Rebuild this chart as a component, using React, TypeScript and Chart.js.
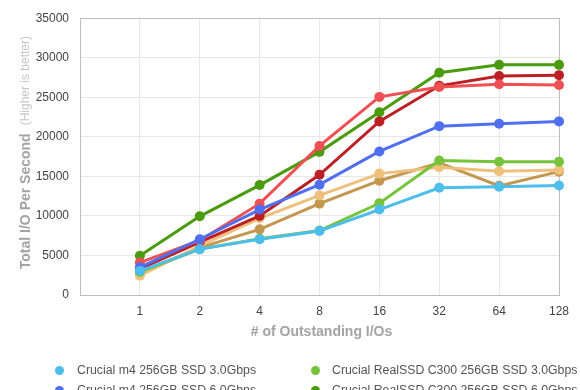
import React, { useEffect, useRef } from "react";
import { Chart, registerables } from "chart.js";

Chart.register(...registerables);

const FONT = "'Liberation Sans', Arial, Helvetica, sans-serif";

// X categories (# of outstanding I/Os)
const xLabels = ["1", "2", "4", "8", "16", "32", "64", "128"];

// Series names
const nameM4_30 = "Crucial m4 256GB SSD 3.0Gbps";
const nameM4_60 = "Crucial m4 256GB SSD 6.0Gbps";
const nameRed_30 = "OCZ Vertex 3 240GB SSD 3.0Gbps";
const nameRed_60 = "OCZ Vertex 3 240GB SSD 6.0Gbps";
const nameC300_30 = "Crucial RealSSD C300 256GB SSD 3.0Gbps";
const nameC300_60 = "Crucial RealSSD C300 256GB SSD 6.0Gbps";
const nameTan_30 = "Intel SSD 510 250GB 3.0Gbps";
const nameTan_60 = "Intel SSD 510 250GB 6.0Gbps";

// Values (IOPS)
const m4_30 = [3050, 5800, 7050, 8100, 10800, 13550, 13700, 13850];
const m4_60 = [3500, 7050, 10800, 13950, 18150, 21350, 21650, 21950];
const red_30 = [4100, 6900, 11550, 18850, 25050, 26300, 26650, 26550];
const red_60 = [3300, 6700, 10000, 15200, 21950, 26450, 27700, 27800];
const c300_30 = [2900, 5800, 7100, 8150, 11600, 17000, 16850, 16850];
const c300_60 = [4950, 9950, 13900, 18100, 23100, 28100, 29100, 29100];
const tan_30 = [2450, 6200, 9700, 12600, 15350, 16150, 15650, 15800];
const tan_60 = [2800, 6000, 8300, 11550, 14450, 16700, 13800, 15600];

// Y ticks
const yMin = 0;
const yMax = 35000;
const yStep = 5000;

const series = [
  { name: nameM4_30, data: m4_30, color: "#4DBDEB" },
  { name: nameM4_60, data: m4_60, color: "#4F6FEE" },
  { name: nameRed_30, data: red_30, color: "#EE5053" },
  { name: nameRed_60, data: red_60, color: "#BC2024" },
  { name: nameC300_30, data: c300_30, color: "#76C43B" },
  { name: nameC300_60, data: c300_60, color: "#4A9B0E" },
  { name: nameTan_30, data: tan_30, color: "#EEC07C" },
  { name: nameTan_60, data: tan_60, color: "#C4974F" },
];

// legend columns (column-major layout)
const legendCols = [
  [0, 1, 2, 3],
  [4, 5, 6, 7],
];

export default function App() {
  const ref = useRef<HTMLCanvasElement>(null);

  useEffect(() => {
    const canvas = ref.current;
    if (!canvas) return;

    const frame = {
      id: "frame",
      beforeDatasetsDraw(chart: any) {
        const { ctx, chartArea: a } = chart;
        ctx.save();
        ctx.strokeStyle = "#bdbdbd";
        ctx.lineWidth = 1;
        const l = Math.round(a.left) + 0.5;
        const t = Math.round(a.top) + 0.5;
        const r = Math.round(a.right) + 0.5;
        const b = Math.round(a.bottom) + 0.5;
        ctx.strokeRect(l, t, r - l, b - t);
        ctx.restore();
      },
      afterDraw(chart: any) {
        const { ctx, chartArea: a } = chart;
        ctx.save();
        // Y title
        const main = "Total I/O Per Second";
        const sub = "(Higher is better)";
        ctx.font = `bold 14px ${FONT}`;
        const w1 = ctx.measureText(main).width;
        ctx.font = `12px ${FONT}`;
        const w2 = ctx.measureText(sub).width;
        const gap = 8;
        const total = w1 + gap + w2;
        const cy = (a.top + a.bottom) / 2 - 4;
        ctx.translate(26, cy);
        ctx.rotate(-Math.PI / 2);
        ctx.textBaseline = "middle";
        ctx.textAlign = "left";
        ctx.font = `bold 14px ${FONT}`;
        ctx.fillStyle = "#a3a3a3";
        ctx.fillText(main, -total / 2, 0);
        ctx.font = `12px ${FONT}`;
        ctx.fillStyle = "#c6c6c6";
        ctx.fillText(sub, -total / 2 + w1 + gap, 0);
        ctx.restore();

        // X title
        ctx.save();
        ctx.font = `bold 14px ${FONT}`;
        ctx.fillStyle = "#a3a3a3";
        ctx.textAlign = "center";
        ctx.textBaseline = "middle";
        ctx.fillText("# of Outstanding I/Os", (a.left + a.right) / 2 + 2, a.bottom + 37);
        ctx.restore();
      },
    };

    const chart = new Chart(canvas, {
      type: "line",
      data: {
        datasets: series.map((s) => ({
          label: s.name,
          data: s.data.map((v, i) => ({ x: i, y: v })),
          borderColor: s.color,
          backgroundColor: s.color,
          pointBackgroundColor: s.color,
          pointBorderColor: s.color,
          borderWidth: 3,
          pointRadius: 5,
          pointBorderWidth: 0,
          tension: 0,
          fill: false,
          clip: false as any,
        })),
      },
      options: {
        responsive: false,
        animation: false,
        devicePixelRatio: 1,
        layout: { padding: { left: 0, right: 21, top: 15, bottom: 0 } },
        plugins: {
          legend: { display: false },
          tooltip: { enabled: false },
        },
        scales: {
          x: {
            type: "linear",
            min: -1,
            max: xLabels.length - 1,
            afterFit(scale: any) {
              scale.height = 95;
            },
            ticks: {
              stepSize: 1,
              autoSkip: false,
              maxRotation: 0,
              padding: 9,
              color: "#444",
              font: { family: FONT, size: 12 },
              callback: (v: any) => {
                const i = Number(v);
                return i >= 0 && i < xLabels.length ? xLabels[i] : "";
              },
            },
            grid: { color: "#e8e8e8", lineWidth: 1, drawTicks: false },
            border: { color: "#bdbdbd", width: 1 },
          },
          y: {
            type: "linear",
            min: yMin,
            max: yMax,
            afterFit(scale: any) {
              scale.width = 80;
            },
            ticks: {
              stepSize: yStep,
              padding: 11,
              color: "#444",
              font: { family: FONT, size: 12 },
              callback: (v: any) => String(v),
            },
            grid: { color: "#e8e8e8", lineWidth: 1, drawTicks: false },
            border: { color: "#bdbdbd", width: 1 },
          },
        },
      },
      plugins: [frame],
    });

    return () => chart.destroy();
  }, []);

  return (
    <div
      style={{
        position: "fixed",
        left: 0,
        top: 0,
        width: 580,
        height: 390,
        overflow: "hidden",
        background: "#fff",
      }}
    >
      <canvas ref={ref} width={580} height={390} style={{ display: "block", width: 580, height: 390 }} />
      {legendCols.map((col, ci) => (
        <div
          key={ci}
          style={{
            position: "absolute",
            left: ci === 0 ? 55 : 311,
            top: 361,
          }}
        >
          {col.map((si) => (
            <div
              key={si}
              style={{
                display: "flex",
                alignItems: "center",
                height: 19.5,
                whiteSpace: "nowrap",
              }}
            >
              <span
                style={{
                  display: "inline-block",
                  width: 9,
                  height: 9,
                  borderRadius: "50%",
                  background: series[si].color,
                  marginRight: ci === 0 ? 13 : 12,
                }}
              />
              <span
                style={{
                  fontFamily: FONT,
                  fontSize: 12.3,
                  color: "#555",
                  lineHeight: "19.5px",
                }}
              >
                {series[si].name}
              </span>
            </div>
          ))}
        </div>
      ))}
    </div>
  );
}
